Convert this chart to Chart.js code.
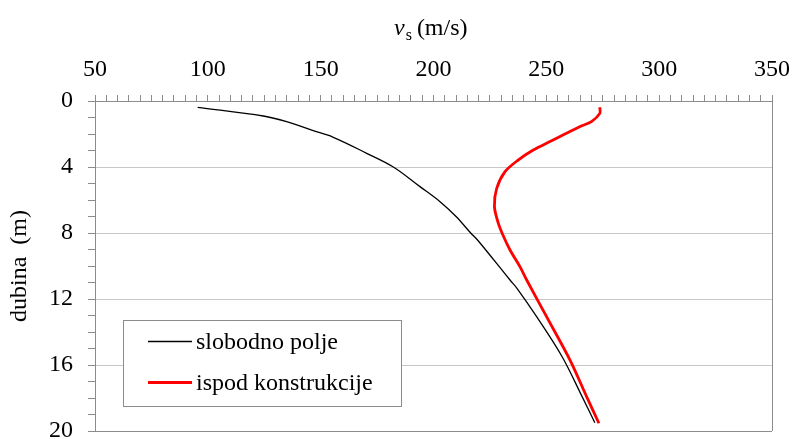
<!DOCTYPE html>
<html>
<head>
<meta charset="utf-8">
<script src="https://cdn.jsdelivr.net/npm/chart.js@4/dist/chart.umd.min.js"></script>
<style>
  html, body { margin: 0; padding: 0; background: #fff; }
  #wrap { width: 793px; height: 439px; }
</style>
</head>
<body>
<div id="wrap"><canvas id="c" width="793" height="439"></canvas></div>
<script>
// values
const seriesNames = ["slobodno polje", "ispod konstrukcije"];

const depthFree = [0.38, 0.91, 1.25, 1.8, 2.2, 3.17, 4.0, 5.19, 6.1, 7.0, 8.0, 8.47, 10.85, 11.35, 13.07, 15.5, 17.9, 19.5];
const vsFree    = [95.5, 124.6, 134.9, 146.7, 155.6, 170.4, 182.2, 194.0, 202.9, 210.0, 216.5, 219.8, 233.9, 237.0, 245.7, 257.0, 265.8, 271.5];

const depthStruct = [0.38, 0.75, 1.25, 1.55, 2.46, 2.97, 3.58, 4.28, 5.3, 6.4, 7.4, 8.2, 9.03, 10.04, 10.85, 13.07, 15.7, 17.9, 19.53];
const vsStruct    = [273.7, 273.7, 270.0, 265.0, 251.6, 244.2, 237.5, 231.7, 228.0, 227.0, 228.7, 231.0, 233.9, 238.3, 241.3, 250.1, 260.5, 267.8, 273.3];

const xTickLabels = [50, 100, 150, 200, 250, 300, 350];
const yTickLabels = [0, 4, 8, 12, 16, 20];

const FONT = "'Liberation Serif', 'Times New Roman', serif";
const FS = 24;
const AXIS = "#8c8c8c";
const GRID = "#c8c8c8";

function toPoints(xs, ys) {
  return xs.map((v, i) => ({ x: v, y: ys[i] }));
}

// x title with italic v and subscript s
const topTitle = {
  id: "topTitle",
  afterDraw(chart) {
    const ctx = chart.ctx;
    ctx.save();
    ctx.fillStyle = "#000";
    ctx.textBaseline = "alphabetic";
    let x = 394, y = 35;
    ctx.font = "italic " + FS + "px " + FONT;
    ctx.fillText("v", x, y);
    x += ctx.measureText("v").width + 1;
    ctx.font = "16px " + FONT;
    ctx.fillText("s", x, y + 5);
    x += ctx.measureText("s").width + 5;
    ctx.font = FS + "px " + FONT;
    ctx.fillText("(m/s)", x, y);
    ctx.restore();
  }
};

// legend box inside the plot
const boxLegend = {
  id: "boxLegend",
  afterDatasetsDraw(chart) {
    const ctx = chart.ctx;
    const bx = 123, by = 320, bw = 278, bh = 86;
    ctx.save();
    ctx.fillStyle = "#fff";
    ctx.fillRect(bx, by, bw, bh);
    ctx.strokeStyle = AXIS;
    ctx.lineWidth = 1;
    ctx.strokeRect(bx + 0.5, by + 0.5, bw, bh);
    const rows = [341.5, 382.5];
    chart.data.datasets.forEach((ds, i) => {
      ctx.strokeStyle = ds.borderColor;
      ctx.lineWidth = ds.borderWidth;
      ctx.beginPath();
      ctx.moveTo(148, rows[i]);
      ctx.lineTo(192, rows[i]);
      ctx.stroke();
      ctx.fillStyle = "#000";
      ctx.font = FS + "px " + FONT;
      ctx.textBaseline = "middle";
      ctx.fillText(ds.label, 196, rows[i] + 1);
    });
    ctx.restore();
  }
};

new Chart(document.getElementById("c"), {
  type: "scatter",
  data: {
    datasets: [
      {
        label: seriesNames[0],
        data: toPoints(vsFree, depthFree),
        showLine: true,
        borderColor: "#000000",
        borderWidth: 1.3,
        pointRadius: 0,
        tension: 0.35
      },
      {
        label: seriesNames[1],
        data: toPoints(vsStruct, depthStruct),
        showLine: true,
        borderColor: "#ff0000",
        borderWidth: 2.8,
        pointRadius: 0,
        tension: 0.3
      }
    ]
  },
  options: {
    responsive: false,
    animation: false,
    layout: { padding: { left: 0, right: 21, top: 0, bottom: 8 } },
    plugins: {
      legend: { display: false },
      tooltip: { enabled: false }
    },
    scales: {
      x: {
        type: "linear",
        position: "top",
        min: 50,
        max: 350,
        afterFit(scale) {
          scale.height = 101;
          scale.paddingLeft = 0;
          scale.paddingRight = 0;
        },
        afterBuildTicks(scale) {
          const t = [];
          for (let v = 50; v <= 350; v += 5) t.push({ value: v });
          scale.ticks = t;
        },
        ticks: {
          autoSkip: false,
          maxRotation: 0,
          padding: 11,
          color: "#000",
          font: { family: FONT, size: FS },
          callback: (v) => (xTickLabels.includes(v) ? String(v) : "")
        },
        grid: {
          drawOnChartArea: true,
          tickLength: 6,
          tickColor: AXIS,
          color: (c) => (c.tick && c.tick.value === 350 ? AXIS : "transparent"),
          lineWidth: 1
        },
        border: { color: AXIS, width: 1 }
      },
      y: {
        type: "linear",
        reverse: true,
        min: 0,
        max: 20,
        afterFit(scale) {
          scale.width = 95;
          scale.paddingTop = 0;
          scale.paddingBottom = 0;
        },
        afterBuildTicks(scale) {
          const t = [];
          for (let v = 0; v <= 20; v += 1) t.push({ value: v });
          scale.ticks = t;
        },
        title: {
          display: true,
          text: "dubina  (m)",
          color: "#000",
          font: { family: FONT, size: FS },
          padding: { top: 5, bottom: 0 }
        },
        ticks: {
          autoSkip: false,
          padding: 15,
          color: "#000",
          font: { family: FONT, size: FS },
          callback: (v) => (yTickLabels.includes(v) ? String(v) : "")
        },
        grid: {
          tickLength: 7,
          tickColor: AXIS,
          color: (c) => {
            if (!c.tick) return "transparent";
            if (c.tick.value === 20) return AXIS;
            return c.tick.value % 4 === 0 ? GRID : "transparent";
          },
          lineWidth: 1
        },
        border: { color: AXIS, width: 1 }
      }
    }
  },
  plugins: [topTitle, boxLegend]
});
</script>
</body>
</html>
